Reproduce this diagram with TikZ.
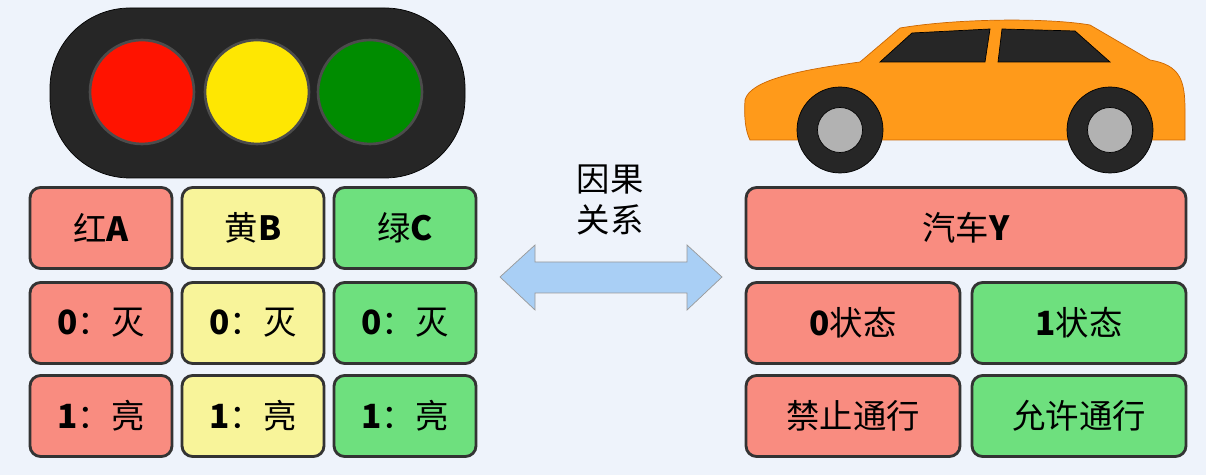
\documentclass[tikz,border=0pt]{standalone}
\usepackage{fontspec}
\setmainfont{Liberation Sans}
\newfontfamily\cjk{Noto Sans CJK SC}
\definecolor{bgblue}{HTML}{EEF3FB}
\definecolor{boxred}{HTML}{F98C80}
\definecolor{boxyellow}{HTML}{F8F49A}
\definecolor{boxgreen}{HTML}{6EE07E}
\definecolor{arrowblue}{HTML}{A9CFF5}
\definecolor{carorange}{HTML}{FF9A1A}
\begin{document}
\begin{tikzpicture}[x=0.02cm, y=-0.02cm,
    cell/.style={draw=black!80, line width=1.6pt, rounded corners=6pt, minimum height=1.62cm,
                 font=\fontsize{19}{22}\selectfont\cjk, inner sep=0pt},
    cellred/.style={cell, fill=boxred},
    cellyellow/.style={cell, fill=boxyellow},
    cellgreen/.style={cell, fill=boxgreen},
    lamp/.style={circle, draw=black!70, line width=1.5pt, minimum size=2.08cm}]
\useasboundingbox[fill=bgblue] (0,0) rectangle (1206,475);
% traffic light
\draw[fill=black!85, rounded corners=1.6cm] (50,8) rectangle (465,178);
\node[lamp, fill=red!85!orange] (red) at (142,92) {};
\node[lamp, fill=yellow!90!orange] (yellow) at (257,92) {};
\node[lamp, fill=green!55!black] (green) at (370,92) {};
% left table
\foreach \x/\c/\t in {101/red/红\textbf{A}, 253/yellow/黄\textbf{B}, 405/green/绿\textbf{C}}{
  \node[cell\c, minimum width=2.84cm] (h\c) at (\x,228) {\t};
  \node[cell\c, minimum width=2.84cm] (off\c) at (\x,323) {\textbf{0}：灭};
  \node[cell\c, minimum width=2.84cm] (on\c) at (\x,416) {\textbf{1}：亮};
}
% arrow
\draw[fill=arrowblue, draw=black!40] (500,277) -- (535,245) -- (535,262) -- (687,262) -- (687,245)
  -- (722,277) -- (687,310) -- (687,293) -- (535,293) -- (535,310) -- cycle;
\node[font=\fontsize{19}{23}\selectfont\cjk, align=center] (cause) at (610,200) {因果\\关系};
% car
\draw[fill=carorange, draw=orange!80!black] (745,100) .. controls (750,80) and (800,70) .. (860,62)
  -- (900,28) .. controls (960,18) and (1050,18) .. (1090,25) -- (1150,60)
  .. controls (1180,65) and (1185,80) .. (1185,110) -- (1185,140) -- (750,140)
  .. controls (745,130) and (744,115) .. (745,100) -- cycle;
\draw[fill=black!85] (880,62) -- (912,33) -- (990,29) -- (985,62) -- cycle;
\draw[fill=black!85] (998,62) -- (1002,29) -- (1075,31) -- (1110,62) -- cycle;
\foreach \w in {840,1110}{
  \draw[fill=black!85] (\w,130) circle (0.86cm);
  \draw[fill=gray!60] (\w,130) circle (0.45cm);
}
% right table
\node[cellred, minimum width=8.8cm] (car) at (966,228) {汽车\textbf{Y}};
\node[cellred, minimum width=4.28cm] (zero) at (853,323) {\textbf{0}状态};
\node[cellgreen, minimum width=4.28cm] (one) at (1079,323) {\textbf{1}状态};
\node[cellred, minimum width=4.28cm] (stop) at (853,416) {禁止通行};
\node[cellgreen, minimum width=4.28cm] (go) at (1079,416) {允许通行};
\end{tikzpicture}
\end{document}
